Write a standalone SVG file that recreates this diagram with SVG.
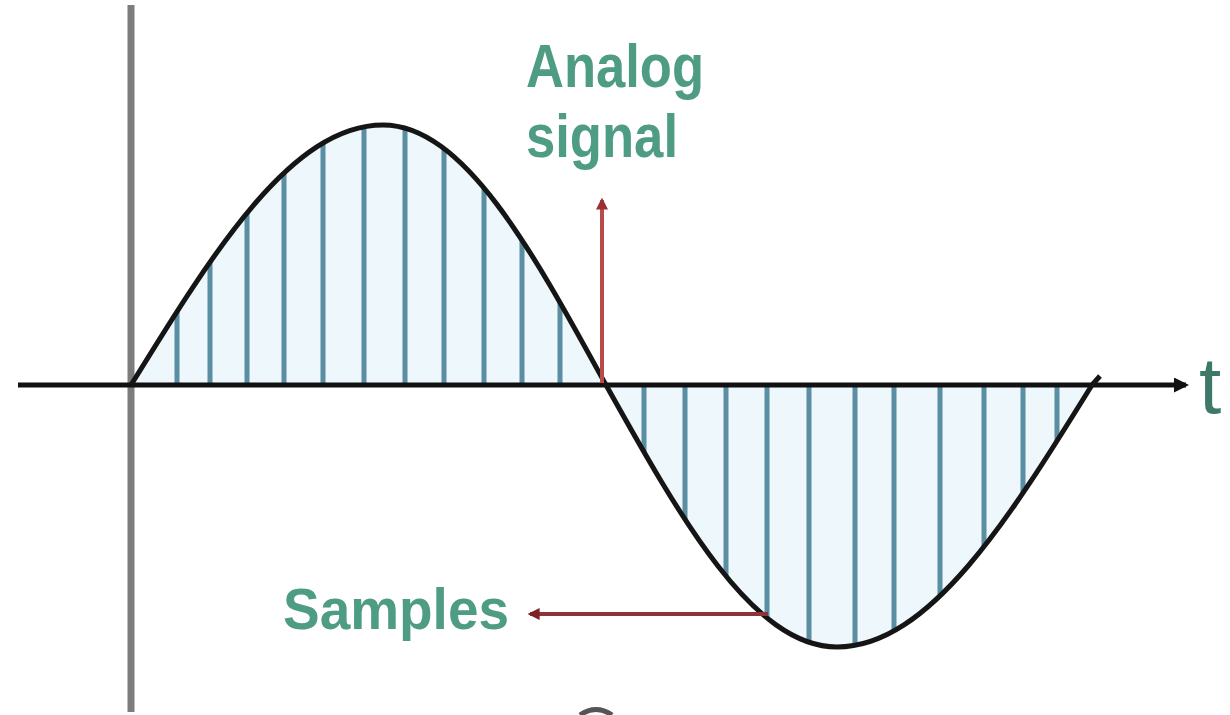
<svg xmlns="http://www.w3.org/2000/svg" width="1230" height="715" viewBox="0 0 1230 715">
  <style>
    .lbl { font-family: "Liberation Sans", Arial, sans-serif; fill: #4f9c84; font-weight: bold; }
    .smp { stroke: #5a8ea2; stroke-width: 5; }
    .red1 { stroke: #b84a4c; stroke-width: 4; fill: none; }
    .red2 { stroke: #8e3438; stroke-width: 4; fill: none; }
  </style>
  <defs>
    <clipPath id="waveClip">
      <path d="M131,385 C213,252 292,125 383,125 C464,125 533,252 606,385 C681,519 753,647 837,647 C929,647 1009,519 1092,385 Z"/>
    </clipPath>
    <marker id="arrRed1" viewBox="0 0 10 10" refX="8" refY="5" markerWidth="3" markerHeight="3" orient="auto">
      <path d="M0,0 L10,5 L0,10 Z" fill="#9b3034"/>
    </marker>
    <marker id="arrRed2" viewBox="0 0 10 10" refX="8" refY="5" markerWidth="3" markerHeight="3" orient="auto">
      <path d="M0,0 L10,5 L0,10 Z" fill="#7e2428"/>
    </marker>
    <marker id="arrBlack" viewBox="0 0 10 10" refX="8" refY="5" markerWidth="3" markerHeight="3" orient="auto">
      <path d="M0,0 L10,5 L0,10 Z" fill="#111"/>
    </marker>
  </defs>
  <rect width="1230" height="715" fill="#ffffff"/>

  <g id="y-axis">
    <line x1="131" y1="5" x2="131" y2="712" stroke="#7c7c7c" stroke-width="7"/>
  </g>

  <g id="samples-area">
    <path d="M131,385 C213,252 292,125 383,125 C464,125 533,252 606,385 C681,519 753,647 837,647 C929,647 1009,519 1092,385 Z" fill="#eef7fb"/>
    <g clip-path="url(#waveClip)" class="smp">
      <line x1="177" y1="90" x2="177" y2="680"/>
      <line x1="210" y1="90" x2="210" y2="680"/>
      <line x1="247" y1="90" x2="247" y2="680"/>
      <line x1="284" y1="90" x2="284" y2="680"/>
      <line x1="323" y1="90" x2="323" y2="680"/>
      <line x1="364" y1="90" x2="364" y2="680"/>
      <line x1="405" y1="90" x2="405" y2="680"/>
      <line x1="444" y1="90" x2="444" y2="680"/>
      <line x1="484" y1="90" x2="484" y2="680"/>
      <line x1="522" y1="90" x2="522" y2="680"/>
      <line x1="560" y1="90" x2="560" y2="680"/>
      <line x1="644" y1="90" x2="644" y2="680"/>
      <line x1="685" y1="90" x2="685" y2="680"/>
      <line x1="726" y1="90" x2="726" y2="680"/>
      <line x1="767" y1="90" x2="767" y2="680"/>
      <line x1="809" y1="90" x2="809" y2="680"/>
      <line x1="855" y1="90" x2="855" y2="680"/>
      <line x1="894" y1="90" x2="894" y2="680"/>
      <line x1="940" y1="90" x2="940" y2="680"/>
      <line x1="984" y1="90" x2="984" y2="680"/>
      <line x1="1023" y1="90" x2="1023" y2="680"/>
      <line x1="1057" y1="90" x2="1057" y2="680"/>
    </g>
  </g>

  <g id="t-axis">
    <line x1="18" y1="385" x2="1186" y2="385" stroke="#111" stroke-width="5" marker-end="url(#arrBlack)"/>
    <text x="1199" y="413" font-family="Liberation Sans, Arial, sans-serif" font-size="80" fill="#3d7868">t</text>
  </g>

  <g id="analog-wave">
    <path d="M131,385 C213,252 292,125 383,125 C464,125 533,252 606,385 C681,519 753,647 837,647 C929,647 1009,519 1092,385 L1100,376" fill="none" stroke="#151515" stroke-width="5" stroke-linejoin="round"/>
  </g>

  <g id="connectors">
    <line class="red1" x1="602" y1="383" x2="602" y2="200" marker-end="url(#arrRed1)"/>
    <line class="red2" x1="768" y1="614" x2="530" y2="614" marker-end="url(#arrRed2)"/>
  </g>

  <g id="label-analog">
    <text class="lbl" x="526" y="87" font-size="62" textLength="178" lengthAdjust="spacingAndGlyphs">Analog</text>
    <text class="lbl" x="526" y="157" font-size="62" textLength="152" lengthAdjust="spacingAndGlyphs">signal</text>
  </g>

  <g id="label-samples">
    <text class="lbl" x="283" y="629" font-size="57" textLength="226" lengthAdjust="spacingAndGlyphs">Samples</text>
  </g>

  <g id="bottom-fragment">
    <path d="M580,715 Q596,704 612,715" fill="none" stroke="#555" stroke-width="5"/>
  </g>
</svg>
